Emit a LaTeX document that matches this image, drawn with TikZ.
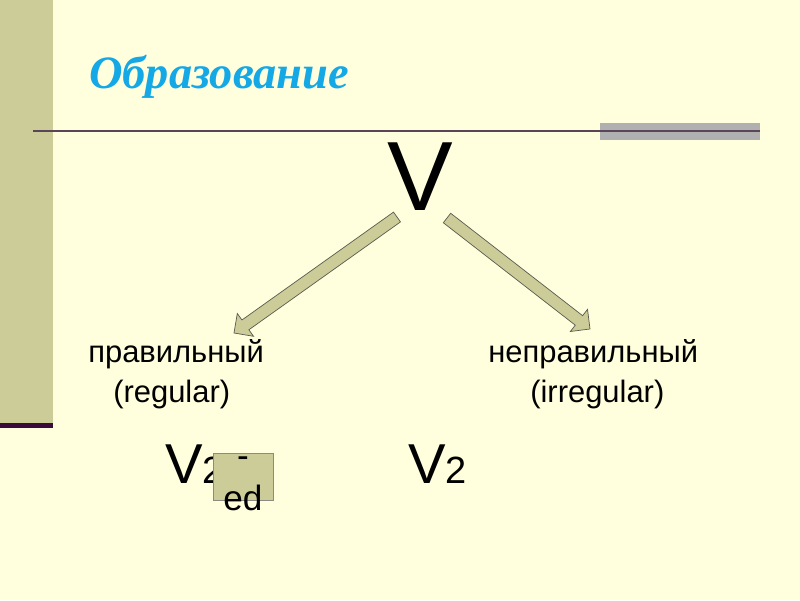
\documentclass[tikz,border=0pt]{standalone}
\usepackage{fontspec}
\setmainfont{Liberation Sans}
\newfontfamily\titlefamily{Liberation Serif}
\usepackage{tikz}
\usetikzlibrary{calc}
\definecolor{slidebg}{HTML}{FFFFDD}
\definecolor{olivebar}{HTML}{CCCC99}
\definecolor{rulepurple}{HTML}{5A4658}
\definecolor{barpurple}{HTML}{3A0A3A}
\definecolor{rulegray}{HTML}{B0B0B0}
\definecolor{titleblue}{HTML}{14A8E6}
\definecolor{arrowedge}{HTML}{5A5A50}
\tikzset{every node/.append style={inner sep=0pt}}
\tikzset{
  lbl/.style={font=\fontsize{22pt}{22pt}\selectfont,anchor=base west},
  verb/.style={font=\fontsize{40pt}{40pt}\selectfont,anchor=base west},
  arrowbody/.style={fill=olivebar,draw=arrowedge,line width=.5pt,line join=miter},
  edbox/.style={fill=olivebar,draw=arrowedge!70,line width=.4pt,minimum width=1.5cm,minimum height=1.175cm}
}
% block arrow from #1 to #2 (shaft 6px, head 14px)
\newcommand\blockarrow[2]{%
  \coordinate (hb) at ($(#2)!0.35cm!(#1)$);
  \draw[arrowbody] ($(#1)!0.15cm!90:(#2)$) -- ($(hb)!0.15cm!90:(#2)$)
    -- ($(hb)!0.35cm!90:(#2)$) -- (#2) -- ($(hb)!0.35cm!-90:(#2)$)
    -- ($(hb)!0.15cm!-90:(#2)$) -- ($(#1)!0.15cm!-90:(#2)$) -- cycle;}

\begin{document}
\begin{tikzpicture}[x=0.025cm,y=-0.025cm]
\fill[slidebg] (0,0) rectangle (800,600);
\useasboundingbox (0,0) rectangle (800,600);
% side bar and rule
\fill[olivebar] (0,0) rectangle (53,425);
\fill[barpurple] (0,423) rectangle (53,428);
\fill[rulegray] (600,123) rectangle (760,140);
\draw[rulepurple,line width=1.4pt] (33,131)--(760,131);
% title
\node[anchor=base west,text=titleblue,font=\titlefamily\bfseries\itshape\fontsize{33pt}{33pt}\selectfont] (title) at (89,88) {Образование};
\node[anchor=base,font=\fontsize{70pt}{70pt}\selectfont] (verb) at (420,210) {V};
% arrows
\coordinate (ltail) at (397,217); \coordinate (ltip) at (234,333);
\coordinate (rtail) at (447,218); \coordinate (rtip) at (590,329);
\blockarrow{ltail}{ltip}
\blockarrow{rtail}{rtip}
% labels
\node[lbl] (reg) at (88,362) {правильный};
\node[lbl] (regen) at (113,402) {(regular)};
\node[lbl] (irr) at (488,362) {неправильный};
\node[lbl] (irren) at (530,402) {(irregular)};
\node[verb] (vreg) at (165,483) {V{\fontsize{27pt}{27pt}\selectfont 2}};
\node[verb] (virr) at (408,483) {V{\fontsize{27pt}{27pt}\selectfont 2}};
\node[edbox] (box) at (243,476.5) {};
\node[anchor=base,font=\fontsize{25pt}{25pt}\selectfont] (dash) at (243,467) {-};
\node[anchor=base,font=\fontsize{25pt}{25pt}\selectfont] (ed) at (243,510) {ed};
\end{tikzpicture}
\end{document}
